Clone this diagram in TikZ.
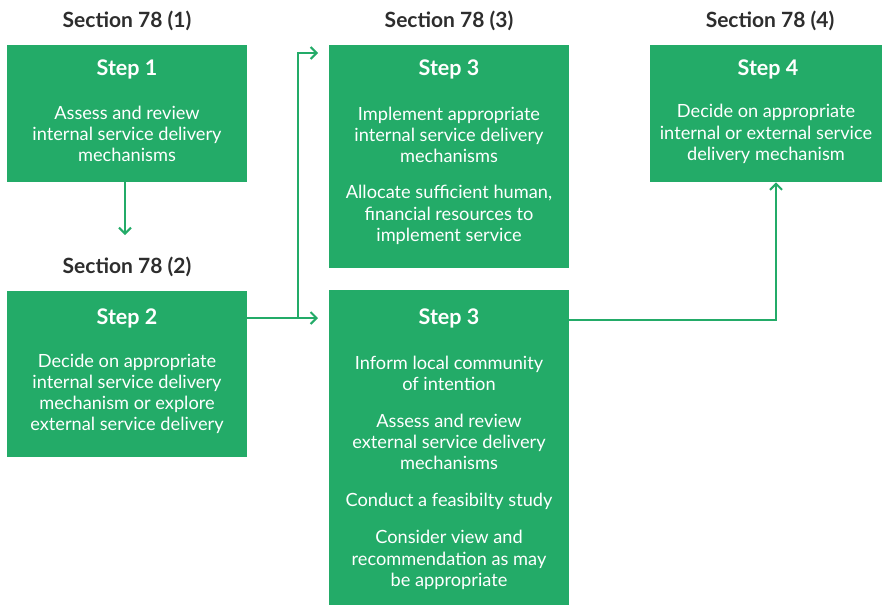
\documentclass[tikz,border=0pt]{standalone}
\usepackage{fontspec}
\setmainfont{Lato}
\usetikzlibrary{arrows.meta}
\definecolor{grn}{RGB}{35,171,104}
\definecolor{hd}{RGB}{45,45,45}
\tikzset{
  box/.style={fill=grn, draw=none, anchor=north west, inner sep=0pt},
  sect/.style={text=hd, font=\fontsize{21}{24}\selectfont\bfseries},
  steplbl/.style={text=white, font=\fontsize{21.5}{24}\selectfont\bfseries},
  body/.style={text=white, align=center, inner sep=0pt, font=\fontsize{18.2}{21.2}\selectfont},
  conn/.style={draw=grn, line width=2pt, -{Straight Barb[length=6pt,width=12pt,line width=2pt]}},
}
\begin{document}
\begin{tikzpicture}[x=1pt,y=-1pt]
\useasboundingbox (0,0) rectangle (882,606);
% boxes
\node[box, minimum width=240, minimum height=137] (b1) at (7,45) {};
\node[box, minimum width=240, minimum height=166] (b2) at (7,291) {};
\node[box, minimum width=240, minimum height=223] (b3a) at (329,45) {};
\node[box, minimum width=240, minimum height=315] (b3b) at (329,290) {};
\node[box, minimum width=232, minimum height=137] (b4) at (650,45) {};
% section headings
\node[sect] (h1) at (127,21) {Section 78 (1)};
\node[sect] (h2) at (127,267) {Section 78 (2)};
\node[sect] (h3) at (449,21) {Section 78 (3)};
\node[sect] (h4) at (770,21) {Section 78 (4)};
% step labels
\node[steplbl] (l1) at (127,69) {Step 1};
\node[steplbl] (l2) at (127,318) {Step 2};
\node[steplbl] (l3a) at (449,69) {Step 3};
\node[steplbl] (l3b) at (449,318) {Step 3};
\node[steplbl] (l4) at (768,69) {Step 4};
% body texts
\node[body] (t1) at (127,134) {Assess and review\\internal service delivery\\mechanisms};
\node[body] (t2) at (127,394) {Decide on appropriate\\internal service delivery\\mechanism or explore\\external service delivery};
\node[body] (t3a) at (449,135) {Implement appropriate\\internal service delivery\\mechanisms};
\node[body] (t3a2) at (449,215) {Allocate sufficient human,\\financial resources to\\implement service};
\node[body] (t3b1) at (449,373) {Inform local community\\of intention};
\node[body] (t3b2) at (449,442) {Assess and review\\external service delivery\\mechanisms};
\node[body] (t3b3) at (449,501) {Conduct a feasibilty study};
\node[body] (t3b4) at (449,560) {Consider view and\\recommendation as may\\be appropriate};
\node[body] (t4) at (766,134) {Decide on appropriate\\internal or external service\\delivery mechanism};
% connectors
\coordinate (a1) at (125,235);
\coordinate (j2) at (298,318);
\coordinate (e3) at (776,320);
\draw[conn] (b1.south -| a1) -- (a1);
\draw[conn, shorten >=11pt] (b2.east |- j2) -- (b3b.west |- j2);
\draw[conn, shorten >=11pt] (j2) -- (j2 |- 0,53) -- (b3a.west |- 0,53);
\draw[conn] (b3b.east |- e3) -- (e3) -- (b4.south -| e3);
\end{tikzpicture}
\end{document}
